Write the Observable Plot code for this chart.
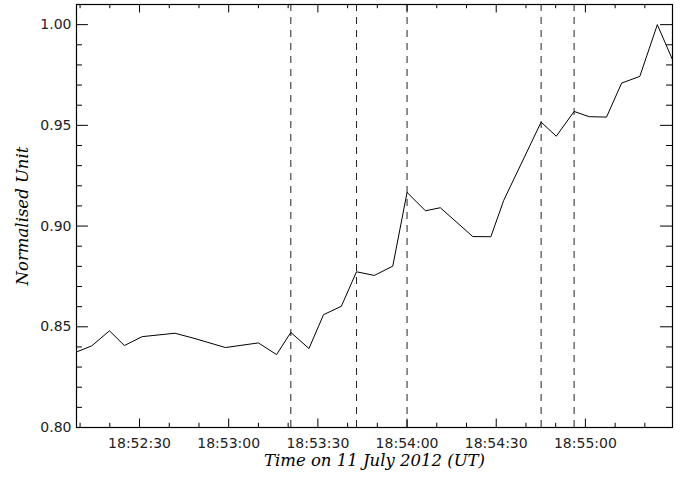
<!DOCTYPE html>
<html>
<head>
<meta charset="utf-8">
<script src="https://cdn.jsdelivr.net/npm/d3@7"></script>
<script src="https://cdn.jsdelivr.net/npm/@observablehq/plot@0.6"></script>
<style>
  html, body { margin: 0; padding: 0; background: #fff; }
</style>
</head>
<body>
<div id="chart"></div>
<script>
// ---- data ----
const sampleTimes = [
  "18:52:08.8", "18:52:13.9", "18:52:19.9", "18:52:24.9", "18:52:30.9",
  "18:52:41.9", "18:52:48.3", "18:52:58.9", "18:53:10.0", "18:53:16.1",
  "18:53:20.9", "18:53:27.0", "18:53:31.9", "18:53:37.9", "18:53:43.0",
  "18:53:49.0", "18:53:55.2", "18:54:00.0", "18:54:06.2", "18:54:11.2",
  "18:54:22.1", "18:54:28.2", "18:54:32.5", "18:54:45.1", "18:54:50.2",
  "18:54:56.2", "18:55:01.3", "18:55:07.1", "18:55:12.2", "18:55:18.3",
  "18:55:24.2", "18:55:29.3"
];
const normValues = [
  0.8375, 0.8405, 0.8480, 0.8407, 0.8451,
  0.8468, 0.8443, 0.8397, 0.8420, 0.8362,
  0.8472, 0.8392, 0.8560, 0.8602, 0.8773,
  0.8755, 0.8801, 0.9167, 0.9076, 0.9091,
  0.8948, 0.8947, 0.9127, 0.9516, 0.9446,
  0.9569, 0.9543, 0.9541, 0.9710, 0.9743,
  1.0000, 0.9826
];
const eventTimes = ["18:53:20.9", "18:53:43.0", "18:54:00.0", "18:54:45.1", "18:54:56.2"];
const xTickLabels = ["18:52:30", "18:53:00", "18:53:30", "18:54:00", "18:54:30", "18:55:00"];
const yTickLabels = ["0.80", "0.85", "0.90", "0.95", "1.00"];
const yDomain = [0.80, 1.01];
const xTitle = "Time on 11 July 2012 (UT)";
const yTitle = "Normalised Unit";

// ---- helpers ----
function parseT(s) {
  const [h, m, sec] = s.split(":");
  return new Date(Date.UTC(2012, 6, 11, +h, +m, 0) + (+sec) * 1000);
}
const series = sampleTimes.map((t, i) => ({time: parseT(t), value: normValues[i]}));
const events = eventTimes.map(parseT);
const xMajor = xTickLabels.map(parseT);
const yMajor = yTickLabels.map(Number);
const xDomain = d3.extent(series, d => d.time);
const xMinor = d3.utcSecond.every(10).range(xDomain[0], xDomain[1]).filter(d => !xMajor.some(m => +m === +d));
const yMinor = d3.range(0, 22).map(i => +(0.80 + i * 0.01).toFixed(2)).filter(v => v <= yDomain[1] && !yMajor.includes(v));

const W = 694, H = 478, mL = 76, mR = 22, mT = 4, mB = 51;
const innerW = W - mL - mR, innerH = H - mT - mB;
const xLen = 0.02 * innerH, yLen = 0.02 * innerW;

const chart = Plot.plot({
  width: W, height: H,
  marginLeft: mL, marginRight: mR, marginTop: mT, marginBottom: mB,
  style: {fontFamily: "'DejaVu Sans', sans-serif", fontSize: "14px", color: "#000", background: "#fff"},
  x: {type: "utc", domain: xDomain},
  y: {domain: yDomain},
  marks: [
    // vertical dashed event lines
    Plot.ruleX(events, {x: d => d, stroke: "#222", strokeWidth: 1, strokeDasharray: "7,6"}),
    // light curve
    Plot.line(series, {x: "time", y: "value", stroke: "#000", strokeWidth: 1}),
    // tick labels
    Plot.axisX(xMajor, {tickSize: 0, tickPadding: 11, tickFormat: d3.utcFormat("%H:%M:%S"), label: null, fontSize: 14, fill: "#222"}),
    Plot.axisY(yMajor, {tickSize: 0, tickPadding: 5, tickFormat: d3.format(".2f"), label: null, fontSize: 14, fill: "#222"}),
    // inward ticks: bottom & top
    Plot.ruleX(xMajor, {x: d => d, insetTop: innerH - xLen, stroke: "#000"}),
    Plot.ruleX(xMajor, {x: d => d, insetBottom: innerH - xLen, stroke: "#000"}),
    Plot.ruleX(xMinor, {x: d => d, insetTop: innerH - xLen / 2, stroke: "#000"}),
    Plot.ruleX(xMinor, {x: d => d, insetBottom: innerH - xLen / 2, stroke: "#000"}),
    // inward ticks: left & right
    Plot.ruleY(yMajor, {y: d => d, insetRight: innerW - yLen, stroke: "#000"}),
    Plot.ruleY(yMajor, {y: d => d, insetLeft: innerW - yLen, stroke: "#000"}),
    Plot.ruleY(yMinor, {y: d => d, insetRight: innerW - yLen / 2, stroke: "#000"}),
    Plot.ruleY(yMinor, {y: d => d, insetLeft: innerW - yLen / 2, stroke: "#000"}),
    Plot.frame({stroke: "#000", strokeWidth: 1.2}),
    // axis titles
    Plot.text([xTitle], {text: d => d, frameAnchor: "bottom", dy: 38, lineAnchor: "bottom", textAnchor: "middle",
      fontFamily: "'DejaVu Serif', serif", fontStyle: "italic", fontSize: 16.5, fill: "#000"}),
    Plot.text([yTitle], {text: d => d, frameAnchor: "left", rotate: -90, dx: -49, lineAnchor: "bottom", textAnchor: "middle",
      fontFamily: "'DejaVu Serif', serif", fontStyle: "italic", fontSize: 16.5, fill: "#000"})
  ]
});
document.getElementById("chart").append(chart);
</script>
</body>
</html>
